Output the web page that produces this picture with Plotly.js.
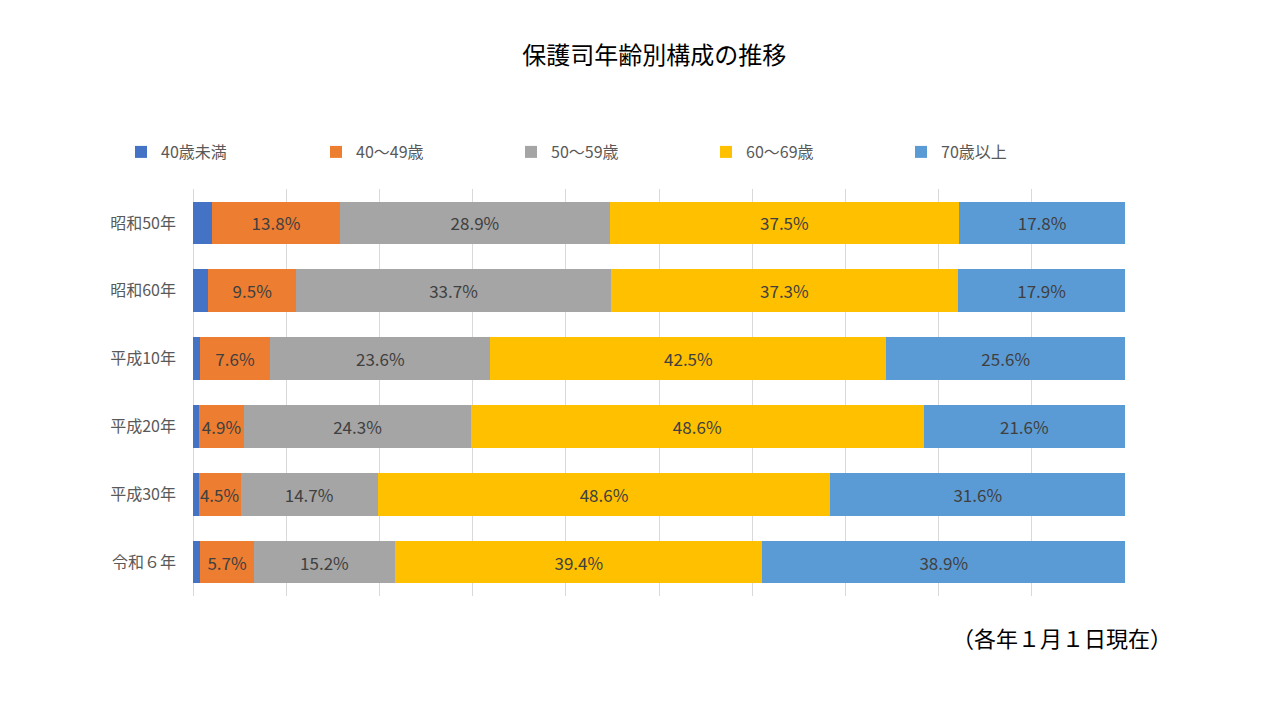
<!DOCTYPE html>
<html>
<head>
<meta charset="utf-8">
<script src="https://cdn.plot.ly/plotly-3.0.1.min.js"></script>
<style>html,body{margin:0;padding:0;background:#fff;}#chart{width:1280px;height:720px;}</style>
</head>
<body>
<div id="chart"></div>
<script>
const categories = ["昭和50年", "昭和60年", "平成10年", "平成20年", "平成30年", "令和６年"];
const seriesNames = ["40歳未満", "40～49歳", "50～59歳", "60～69歳", "70歳以上"];
const under40 = [2.0, 1.6, 0.7, 0.6, 0.6, 0.8];
const age40s = [13.8, 9.5, 7.6, 4.9, 4.5, 5.7];
const age50s = [28.9, 33.7, 23.6, 24.3, 14.7, 15.2];
const age60s = [37.5, 37.3, 42.5, 48.6, 48.6, 39.4];
const over70 = [17.8, 17.9, 25.6, 21.6, 31.6, 38.9];
const colors = ["#4472C4", "#ED7D31", "#A5A5A5", "#FFC000", "#5B9BD5"];
const showLabels = [false, true, true, true, true];

const FONT = '"Noto Sans CJK JP", "Noto Sans", sans-serif';
const allSeries = [under40, age40s, age50s, age60s, over70];

const traces = allSeries.map((vals, i) => ({
  type: 'bar',
  orientation: 'h',
  name: seriesNames[i],
  y: categories,
  x: vals,
  marker: {color: colors[i], line: {width: 0}},
  text: showLabels[i] ? vals.map(v => v.toFixed(1) + '%') : undefined,
  textposition: showLabels[i] ? 'inside' : 'none',
  insidetextanchor: 'middle',
  textangle: 0,
  textfont: {family: FONT, size: 17, color: '#404040'},
  hoverinfo: 'none'
}));

const layout = {
  width: 1280, height: 720,
  paper_bgcolor: '#ffffff', plot_bgcolor: '#ffffff',
  barmode: 'stack',
  bargap: 0.37,
  margin: {l: 193, r: 155, t: 189, b: 124, pad: 0},
  font: {family: FONT, color: '#595959'},
  title: {
    text: '保護司年齢別構成の推移',
    font: {family: FONT, size: 24, color: '#000000'},
    x: 0.495, xanchor: 'center', xref: 'paper',
    y: 1 - 56/720, yanchor: 'middle', yref: 'container'
  },
  uniformtext: {mode: 'show', minsize: 17},
  xaxis: {
    range: [0, 100],
    dtick: 10,
    showgrid: true,
    gridcolor: '#D9D9D9',
    gridwidth: 1,
    showticklabels: false,
    zeroline: true,
    zerolinecolor: '#D9D9D9',
    zerolinewidth: 1,
    showline: false,
    ticks: '',
    fixedrange: true
  },
  yaxis: {
    autorange: 'reversed',
    type: 'category',
    tickfont: {family: FONT, size: 16, color: '#595959'},
    ticks: '',
    ticklabelstandoff: 16,
    showline: false,
    showgrid: false,
    fixedrange: true
  },
  showlegend: true,
  legend: {
    orientation: 'h',
    x: (121 - 193) / 932, xanchor: 'left',
    y: 1 + (189 - 152) / 407, yanchor: 'middle',
    font: {family: FONT, size: 16, color: '#595959'},
    entrywidth: 150, entrywidthmode: 'pixels',
    traceorder: 'normal',
    itemclick: false, itemdoubleclick: false,
    bgcolor: 'rgba(0,0,0,0)'
  },
  annotations: [{
    text: '（各年１月１日現在）',
    xref: 'paper', yref: 'paper',
    x: (1174 - 193) / 932, xanchor: 'right',
    y: -(637 - 596) / 407, yanchor: 'middle',
    showarrow: false,
    font: {family: FONT, size: 22, color: '#000000'}
  }]
};

Plotly.newPlot('chart', traces, layout, {displayModeBar: false, staticPlot: true});
</script>
</body>
</html>
